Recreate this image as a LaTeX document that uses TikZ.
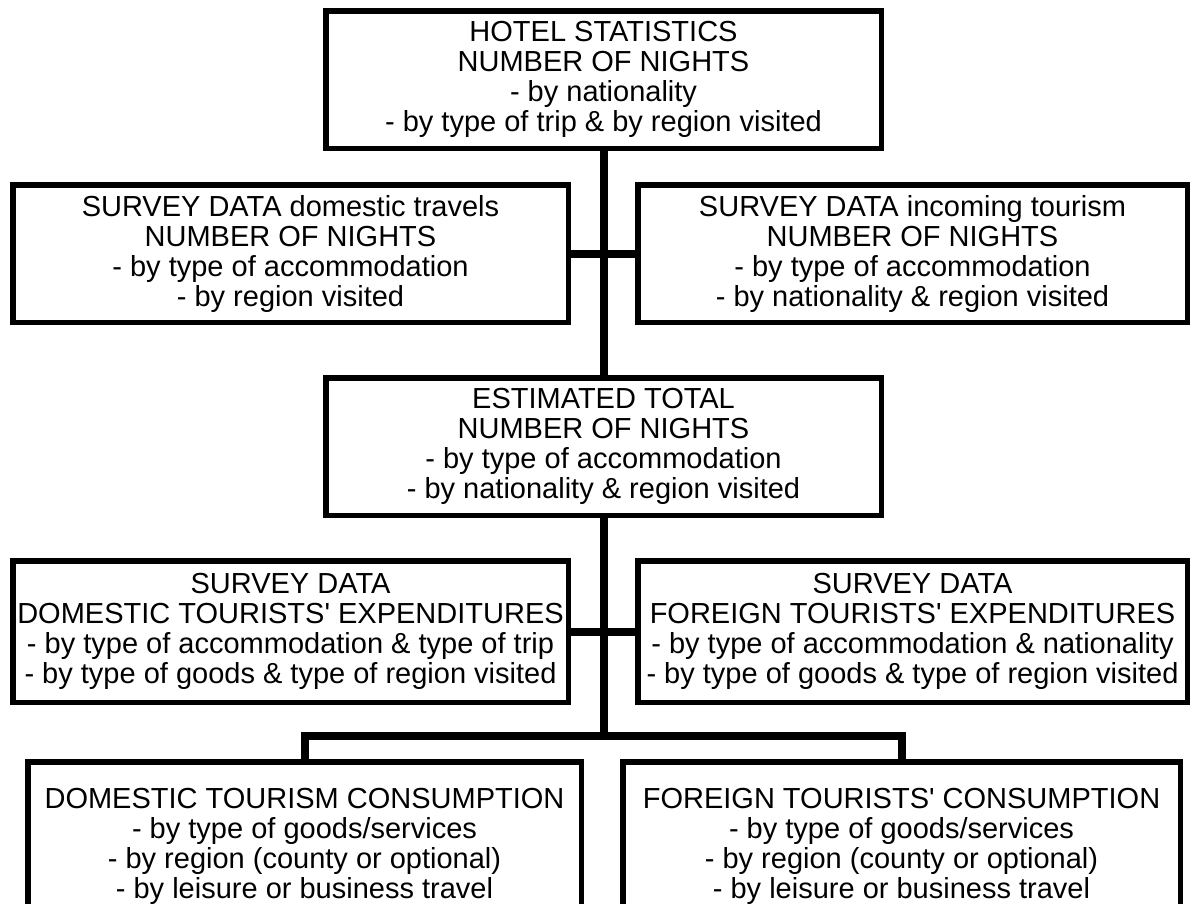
\documentclass[tikz,border=0pt]{standalone}
\usepackage{fontspec}
\setmainfont{Liberation Sans}
\newcommand{\sq}{\XeTeXglyph\XeTeXcharglyph"27\relax}
\begin{document}
\begin{tikzpicture}[x=1pt,y=-1pt,
  box/.style={draw, line width=5.5pt, align=center, inner sep=0pt,
    font=\fontsize{29}{30}\selectfont, fill=white},
  link/.style={line width=8pt, line join=miter}]
\useasboundingbox[fill=white] (0,0) rectangle (1192,903);
\coordinate (bar) at (603.5,736);
\node[box, minimum width=555.5pt, minimum height=137.5pt] (top) at (603.5,79.5)
  {HOTEL STATISTICS\\NUMBER OF NIGHTS\\- by nationality\\- by type of trip \& by region visited};
\node[box, minimum width=555.5pt, minimum height=137.5pt] (r2l) at (290.5,253.5)
  {SURVEY DATA domestic travels\\NUMBER OF NIGHTS\\- by type of accommodation\\- by region visited};
\node[box, minimum width=549.5pt, minimum height=137.5pt] (r2r) at (912.5,253.5)
  {SURVEY DATA incoming tourism\\NUMBER OF NIGHTS\\- by type of accommodation\\- by nationality \& region visited};
\node[box, minimum width=555.5pt, minimum height=137.5pt] (mid) at (603.5,446.5)
  {ESTIMATED TOTAL\\NUMBER OF NIGHTS\\- by type of accommodation\\- by nationality \& region visited};
\node[box, minimum width=555.5pt, minimum height=141.5pt] (r3l) at (290.5,631.5)
  {SURVEY DATA\\DOMESTIC TOURISTS\sq{} EXPENDITURES\\- by type of accommodation \& type of trip\\- by type of goods \& type of region visited};
\node[box, minimum width=549.5pt, minimum height=141.5pt] (r3r) at (912.5,631.5)
  {SURVEY DATA\\FOREIGN TOURISTS\sq{} EXPENDITURES\\- by type of accommodation \& nationality\\- by type of goods \& type of region visited};
\node[box, minimum width=553.5pt, minimum height=168.5pt] (bl) at (304.5,846)
  {DOMESTIC TOURISM CONSUMPTION\\- by type of goods/services\\- by region (county or optional)\\- by leisure or business travel};
\node[box, minimum width=557.5pt, minimum height=168.5pt] (br) at (901.5,846)
  {FOREIGN TOURISTS\sq{} CONSUMPTION\\- by type of goods/services\\- by region (county or optional)\\- by leisure or business travel};
\draw[link] (top.south) -- (mid.north);
\draw[link] (r2l.east) -- (r2r.west);
\draw[link] (mid.south) -- (bar);
\draw[link] (r3l.east) -- (r3r.west);
\draw[link] (bl.north) |- (bar) -| (br.north);
\end{tikzpicture}
\end{document}
